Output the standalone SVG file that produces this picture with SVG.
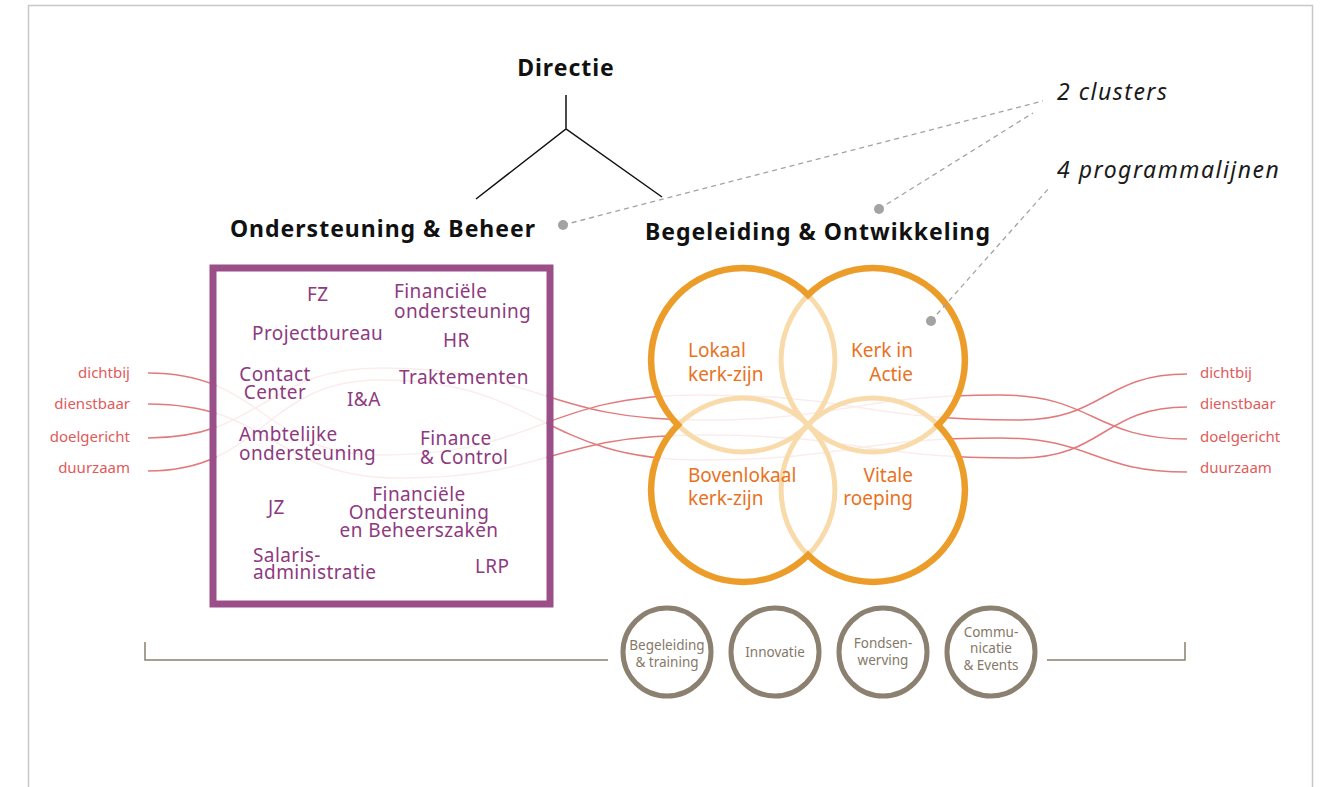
<svg xmlns="http://www.w3.org/2000/svg" width="1325" height="787" viewBox="0 0 1325 787">
<style>
.t{font-family:"Noto Sans","Liberation Sans",sans-serif}
.title{font-size:23px;font-weight:bold;fill:#111;letter-spacing:1px}
.note{font-size:23px;font-style:italic;fill:#1a1a1a;letter-spacing:1.5px}
.pu{font-size:19px;fill:#8e3a80;letter-spacing:0.4px}
.or{font-size:19px;fill:#e8721e}
.lab{font-size:15px;fill:#df5b5b}
.gr{font-size:13.5px;fill:#857868}
.wave{fill:none;stroke:#e27a7c;stroke-width:1.5}
.dash{fill:none;stroke:#a3a3a3;stroke-width:1.3;stroke-dasharray:5 4}
.dot{fill:#a3a3a3}
.tree{fill:none;stroke:#111;stroke-width:1.5}
.ring{fill:none;stroke:#8c8070;stroke-width:5}
.brk{fill:none;stroke:#8c8070;stroke-width:1.5}
</style>
<rect width="1325" height="787" fill="#fff"/>
<path d="M28.5,787 V5.5 H1312.5 V787" fill="none" stroke="#c8c8c8" stroke-width="1.5"/>

<g id="connectors">
  <path class="tree" d="M566,95 V129 M476,199 L566,129 L662,197"/>
  <g id="waves">
    <path class="wave" d="M148,373 C264,373 264,455 380,455 C540,455 540,395 700,395 C860,395 860,420 1020,420 C1103.5,420 1103.5,374 1187,374"/>
    <path class="wave" d="M148,404 C274,404 274,478 400,478 C550,478 550,435 700,435 C860,435 860,458 1020,458 C1103.5,458 1103.5,407 1187,407"/>
    <path class="wave" d="M148,438 C264,438 264,368 380,368 C540,368 540,420 700,420 C850,420 850,395 1000,395 C1093.5,395 1093.5,439 1187,439"/>
    <path class="wave" d="M148,471 C264,471 264,380 380,380 C540,380 540,460 700,460 C850,460 850,438 1000,438 C1093.5,438 1093.5,472 1187,472"/>
  </g>
  <path class="brk" d="M145,642 V660 H608 M1047,660 H1185 V642"/>
</g>

<g id="directie">
  <text class="t title" x="566" y="76" text-anchor="middle">Directie</text>
</g>

<g id="ondersteuning-beheer">
  <text class="t title" x="383" y="237" text-anchor="middle">Ondersteuning &amp; Beheer</text>
  <rect x="216.5" y="271.5" width="330" height="329" fill="#fff" fill-opacity="0.86"/>
  <rect x="213" y="268" width="337" height="336" fill="none" stroke="#9b4f88" stroke-width="7"/>
  <text class="t pu" x="307" y="301">FZ</text>
  <text class="t pu" x="394" y="298">Financiële</text>
  <text class="t pu" x="394" y="318">ondersteuning</text>
  <text class="t pu" x="252" y="340">Projectbureau</text>
  <text class="t pu" x="443" y="347">HR</text>
  <text class="t pu" x="275" y="381" text-anchor="middle">Contact</text>
  <text class="t pu" x="275" y="399" text-anchor="middle">Center</text>
  <text class="t pu" x="347" y="406">I&amp;A</text>
  <text class="t pu" x="399" y="384">Traktementen</text>
  <text class="t pu" x="239" y="441">Ambtelijke</text>
  <text class="t pu" x="239" y="460">ondersteuning</text>
  <text class="t pu" x="420" y="445">Finance</text>
  <text class="t pu" x="420" y="464">&amp; Control</text>
  <text class="t pu" x="268" y="514">JZ</text>
  <text class="t pu" x="419" y="501" text-anchor="middle">Financiële</text>
  <text class="t pu" x="419" y="519" text-anchor="middle">Ondersteuning</text>
  <text class="t pu" x="419" y="537" text-anchor="middle">en Beheerszaken</text>
  <text class="t pu" x="253" y="562">Salaris-</text>
  <text class="t pu" x="253" y="579">administratie</text>
  <text class="t pu" x="475" y="573">LRP</text>
</g>

<g id="begeleiding-ontwikkeling">
  <text class="t title" x="818" y="240" text-anchor="middle">Begeleiding &amp; Ontwikkeling</text>
  <path d="M808,295 A91.92,91.92 0 1 1 938,425 A91.92,91.92 0 1 1 808,555 A91.92,91.92 0 1 1 678,425 A91.92,91.92 0 1 1 808,295 Z" fill="#fff" fill-opacity="0.86"/>
  <g fill="none" stroke="#f9dbab" stroke-width="5">
    <circle cx="743" cy="360" r="91.92"/>
    <circle cx="873" cy="360" r="91.92"/>
    <circle cx="743" cy="490" r="91.92"/>
    <circle cx="873" cy="490" r="91.92"/>
  </g>
  <path d="M808,295 A91.92,91.92 0 1 1 938,425 A91.92,91.92 0 1 1 808,555 A91.92,91.92 0 1 1 678,425 A91.92,91.92 0 1 1 808,295 Z" fill="none" stroke="#ec9c28" stroke-width="6.5" stroke-linejoin="miter"/>
  <text class="t or" x="688" y="357">Lokaal</text>
  <text class="t or" x="688" y="381">kerk-zijn</text>
  <text class="t or" x="913" y="357" text-anchor="end">Kerk in</text>
  <text class="t or" x="913" y="381" text-anchor="end">Actie</text>
  <text class="t or" x="688" y="482">Bovenlokaal</text>
  <text class="t or" x="688" y="505">kerk-zijn</text>
  <text class="t or" x="913" y="482" text-anchor="end">Vitale</text>
  <text class="t or" x="913" y="505" text-anchor="end">roeping</text>
</g>

<g id="notes">
  <text class="t note" x="1057" y="100">2 clusters</text>
  <text class="t note" x="1057" y="178">4 programmalijnen</text>
  <path class="dash" d="M563,225 L1043,101 M879,209 L1033,113 M931,321 L1050,187"/>
  <circle class="dot" cx="563" cy="225" r="5"/>
  <circle class="dot" cx="879" cy="209" r="5"/>
  <circle class="dot" cx="931" cy="321" r="5"/>
</g>

<g id="labels-left">
  <text class="t lab" x="130" y="378" text-anchor="end">dichtbij</text>
  <text class="t lab" x="130" y="409" text-anchor="end">dienstbaar</text>
  <text class="t lab" x="130" y="442" text-anchor="end">doelgericht</text>
  <text class="t lab" x="130" y="473" text-anchor="end">duurzaam</text>
</g>
<g id="labels-right">
  <text class="t lab" x="1200" y="378">dichtbij</text>
  <text class="t lab" x="1200" y="409">dienstbaar</text>
  <text class="t lab" x="1200" y="442">doelgericht</text>
  <text class="t lab" x="1200" y="473">duurzaam</text>
</g>

<g id="begeleiding-training">
  <circle class="ring" cx="667" cy="652" r="44"/>
  <text class="t gr" x="667" y="650" text-anchor="middle">Begeleiding</text>
  <text class="t gr" x="667" y="667" text-anchor="middle">&amp; training</text>
</g>
<g id="innovatie">
  <circle class="ring" cx="775" cy="652" r="44"/>
  <text class="t gr" x="775" y="657" text-anchor="middle">Innovatie</text>
</g>
<g id="fondsenwerving">
  <circle class="ring" cx="883" cy="652" r="44"/>
  <text class="t gr" x="883" y="648" text-anchor="middle">Fondsen-</text>
  <text class="t gr" x="883" y="665" text-anchor="middle">werving</text>
</g>
<g id="communicatie">
  <circle class="ring" cx="991" cy="652" r="44"/>
  <text class="t gr" x="991" y="637" text-anchor="middle">Commu-</text>
  <text class="t gr" x="991" y="653" text-anchor="middle">nicatie</text>
  <text class="t gr" x="991" y="670" text-anchor="middle">&amp; Events</text>
</g>
</svg>
